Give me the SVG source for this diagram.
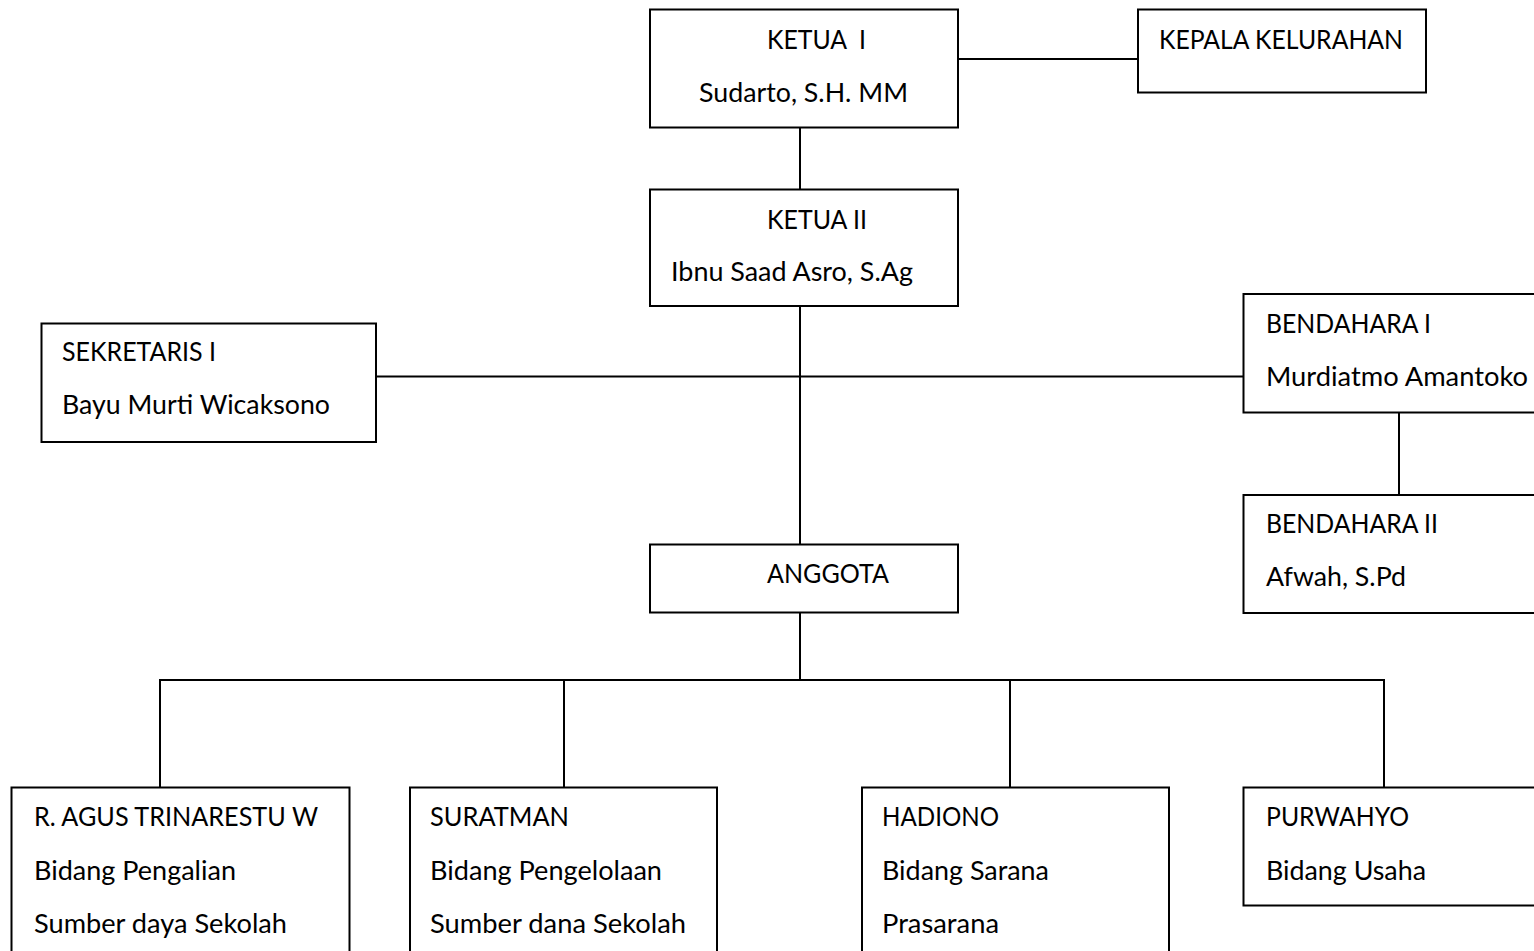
<svg xmlns="http://www.w3.org/2000/svg" width="1534" height="951" viewBox="0 0 1534 951">
<style>
.box{fill:#fff;stroke:#000;stroke-width:2}
.ln{stroke:#000;stroke-width:2;fill:none}
text{font-family:Lato,"Open Sans","Liberation Sans",sans-serif;font-size:26.5px;fill:#000}
</style>
<rect width="1534" height="951" fill="#fff"/>
<g id="connectors">
<line class="ln" x1="958" y1="59" x2="1138" y2="59"/>
<line class="ln" x1="800" y1="127.5" x2="800" y2="189.5"/>
<line class="ln" x1="800" y1="306" x2="800" y2="544.5"/>
<line class="ln" x1="376" y1="376.5" x2="1243.5" y2="376.5"/>
<line class="ln" x1="1399" y1="412.5" x2="1399" y2="495"/>
<line class="ln" x1="800" y1="612.5" x2="800" y2="680"/>
<line class="ln" x1="159" y1="680" x2="1385" y2="680"/>
<line class="ln" x1="160" y1="680" x2="160" y2="787.5"/>
<line class="ln" x1="564" y1="680" x2="564" y2="787.5"/>
<line class="ln" x1="1010" y1="680" x2="1010" y2="787.5"/>
<line class="ln" x1="1384" y1="680" x2="1384" y2="787.5"/>
</g>
<g id="ketua1">
<rect class="box" x="650" y="9.5" width="308" height="118"/>
<text x="767" y="48.5" textLength="99" lengthAdjust="spacingAndGlyphs" xml:space="preserve">KETUA  I</text>
<text x="699" y="101.5" textLength="209" lengthAdjust="spacingAndGlyphs">Sudarto, S.H. MM</text>
</g>
<g id="kepala">
<rect class="box" x="1138" y="9.5" width="288" height="83"/>
<text x="1159" y="48.5" textLength="244" lengthAdjust="spacingAndGlyphs">KEPALA KELURAHAN</text>
</g>
<g id="ketua2">
<rect class="box" x="650" y="189.5" width="308" height="116.5"/>
<text x="767" y="228.5" textLength="100" lengthAdjust="spacingAndGlyphs">KETUA II</text>
<text x="671" y="281" textLength="242" lengthAdjust="spacingAndGlyphs">Ibnu Saad Asro, S.Ag</text>
</g>
<g id="sekretaris">
<rect class="box" x="41.5" y="323.5" width="334.5" height="118.5"/>
<text x="62" y="361" textLength="154" lengthAdjust="spacingAndGlyphs">SEKRETARIS I</text>
<text x="62" y="414" textLength="268" lengthAdjust="spacingAndGlyphs">Bayu Murti Wicaksono</text>
</g>
<g id="bendahara1">
<rect class="box" x="1243.5" y="294" width="310" height="118.5"/>
<text x="1266" y="333" textLength="165" lengthAdjust="spacingAndGlyphs">BENDAHARA I</text>
<text x="1266" y="385.5" textLength="262" lengthAdjust="spacingAndGlyphs">Murdiatmo Amantoko</text>
</g>
<g id="bendahara2">
<rect class="box" x="1243.5" y="495" width="310" height="118"/>
<text x="1266" y="533" textLength="172" lengthAdjust="spacingAndGlyphs">BENDAHARA II</text>
<text x="1266" y="585.5" textLength="140" lengthAdjust="spacingAndGlyphs">Afwah, S.Pd</text>
</g>
<g id="anggota">
<rect class="box" x="650" y="544.5" width="308" height="68"/>
<text x="767" y="583" textLength="122" lengthAdjust="spacingAndGlyphs">ANGGOTA</text>
</g>
<g id="agus">
<rect class="box" x="11.5" y="787.5" width="338" height="180"/>
<text x="34" y="826" textLength="284" lengthAdjust="spacingAndGlyphs">R. AGUS TRINARESTU W</text>
<text x="34" y="879.5" textLength="202" lengthAdjust="spacingAndGlyphs">Bidang Pengalian</text>
<text x="34" y="933" textLength="253" lengthAdjust="spacingAndGlyphs">Sumber daya Sekolah</text>
</g>
<g id="suratman">
<rect class="box" x="410" y="787.5" width="307" height="180"/>
<text x="430" y="826" textLength="139" lengthAdjust="spacingAndGlyphs">SURATMAN</text>
<text x="430" y="879.5" textLength="232" lengthAdjust="spacingAndGlyphs">Bidang Pengelolaan</text>
<text x="430" y="933" textLength="256" lengthAdjust="spacingAndGlyphs">Sumber dana Sekolah</text>
</g>
<g id="hadiono">
<rect class="box" x="862" y="787.5" width="307" height="180"/>
<text x="882" y="826" textLength="117" lengthAdjust="spacingAndGlyphs">HADIONO</text>
<text x="882" y="879.5" textLength="167" lengthAdjust="spacingAndGlyphs">Bidang Sarana</text>
<text x="882" y="933" textLength="117" lengthAdjust="spacingAndGlyphs">Prasarana</text>
</g>
<g id="purwahyo">
<rect class="box" x="1243.5" y="787.5" width="310" height="118"/>
<text x="1266" y="826" textLength="143" lengthAdjust="spacingAndGlyphs">PURWAHYO</text>
<text x="1266" y="879.5" textLength="160" lengthAdjust="spacingAndGlyphs">Bidang Usaha</text>
</g>
</svg>
